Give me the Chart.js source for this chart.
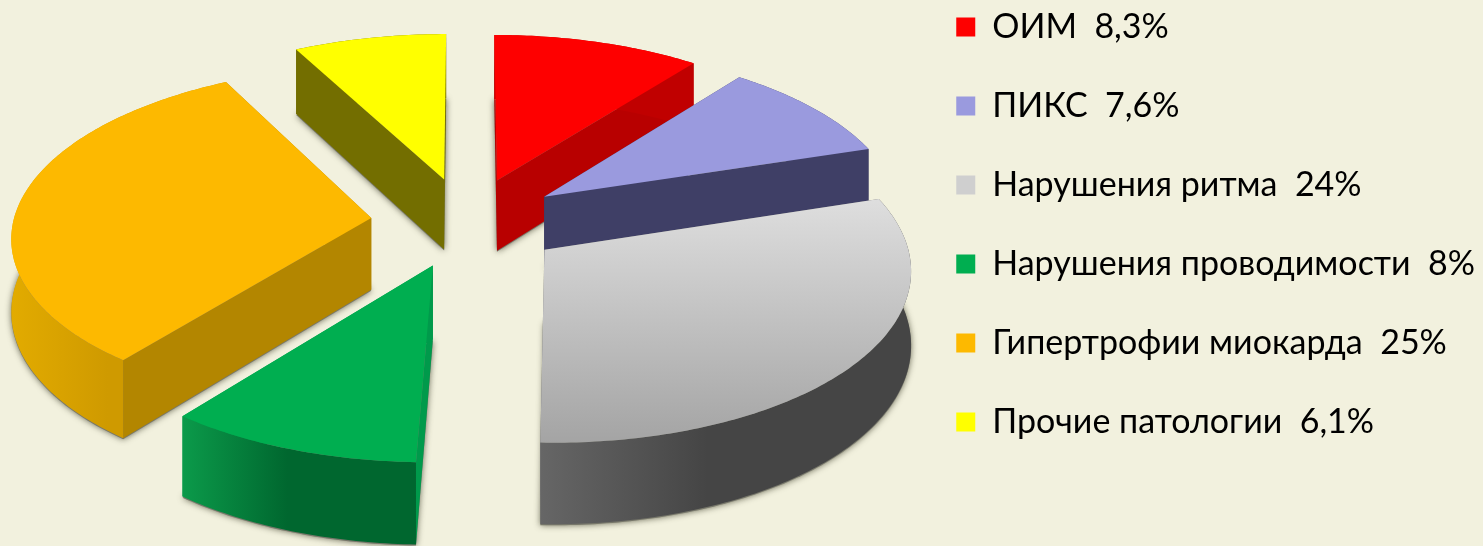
<!DOCTYPE html>
<html lang="ru">
<head>
<meta charset="utf-8">
<title>Структура патологии</title>
<script src="https://cdn.jsdelivr.net/npm/chart.js@4"></script>
<style>
    html, body { margin: 0; padding: 0; background: #f2f1de; overflow: hidden; }
    #wrap { width: 1483px; height: 546px; }
</style>
</head>
<body>
<div id="wrap"><canvas id="pieChart" width="1483" height="546"></canvas></div>
<script>
const categories = ['ОИМ', 'ПИКС', 'Нарушения ритма', 'Нарушения проводимости', 'Гипертрофии миокарда', 'Прочие патологии'];
const values = [8.3, 7.6, 24, 8, 25, 6.1];
const valueLabels = ['8,3%', '7,6%', '24%', '8%', '25%', '6,1%'];

const topColors = ['#fe0000', '#9a9ade', '#cfcfcf', '#00ae50', '#fdb900', '#ffff00'];
const cutColors = ['#b80000', '#3f3f66', '#6a6a6a', '#009a4b', '#b38600', '#736e00'];
const rimColors = [
    ['#c00000', '#c00000'],
    ['#3f3f66', '#3f3f66'],
    ['#666666', '#454545'],
    ['#0b9a4a', '#00672f'],
    ['#e2ab00', '#cf9a00'],
    ['#736e00', '#736e00']
];
const topShade = { 2: ['#dedede', '#a4a4a4'] };

// tilt of the pie plane
const TILT = 0.469;
const PERSPECTIVE = 0.1;
const DEPTH = 72;
const SHIFT_X = 11;
const SHIFT_Y = -31;

function projector(el) {
    const off = (el.options.offset || 0) / 4;
    const mid = (el.startAngle + el.endAngle) / 2;
    const ax = Math.cos(mid) * off;
    const ay = Math.sin(mid) * off;
    const R = el.outerRadius;
    const cx = el.x + SHIFT_X;
    const cy = el.y + SHIFT_Y;
    const toScreen = (u, v, z) => {
        const s = 1 / (1 - PERSPECTIVE * v / R);
        return [cx + u * s, cy + (TILT * v + z) * s];
    };
    return {
        apex: z => toScreen(ax, ay, z),
        rim: (a, z) => toScreen(ax + Math.cos(a) * R, ay + Math.sin(a) * R, z)
    };
}

function angleSteps(el) {
    const n = Math.max(2, Math.ceil((el.endAngle - el.startAngle) / 0.015));
    const out = [];
    for (let i = 0; i <= n; i++) out.push(el.startAngle + (el.endAngle - el.startAngle) * i / n);
    return out;
}

function tracePolygon(ctx, pts) {
    ctx.beginPath();
    pts.forEach((p, i) => i ? ctx.lineTo(p[0], p[1]) : ctx.moveTo(p[0], p[1]));
    ctx.closePath();
}

function sector(el, z) {
    const p = projector(el);
    return [p.apex(z)].concat(angleSteps(el).map(a => p.rim(a, z)));
}

function drawSlice(ctx, el, i) {
    const p = projector(el);
    const steps = angleSteps(el);

    // cut faces
    [el.startAngle, el.endAngle].forEach(a => {
        tracePolygon(ctx, [p.apex(0), p.rim(a, 0), p.rim(a, DEPTH), p.apex(DEPTH)]);
        ctx.fillStyle = cutColors[i];
        ctx.fill();
    });

    // outer rim, lighter on its left end
    const upper = steps.map(a => p.rim(a, 0));
    const lower = steps.map(a => p.rim(a, DEPTH)).reverse();
    const xs = upper.map(q => q[0]);
    const grad = ctx.createLinearGradient(Math.min(...xs), 0, Math.max(...xs), 0);
    grad.addColorStop(0, rimColors[i][0]);
    grad.addColorStop(0.45, rimColors[i][1]);
    grad.addColorStop(1, rimColors[i][1]);
    tracePolygon(ctx, upper.concat(lower));
    ctx.fillStyle = grad;
    ctx.fill();

    // top face
    const top = sector(el, 0);
    tracePolygon(ctx, top);
    if (topShade[i]) {
        const ys = top.map(q => q[1]);
        const g = ctx.createLinearGradient(0, Math.min(...ys), 0, Math.max(...ys));
        g.addColorStop(0, topShade[i][0]);
        g.addColorStop(1, topShade[i][1]);
        ctx.fillStyle = g;
    } else {
        ctx.fillStyle = el.options.backgroundColor;
    }
    ctx.fill();
}

const solidPie = {
    id: 'solidPie',
    beforeDatasetsDraw(chart) {
        const ctx = chart.ctx;
        const arcs = chart.getDatasetMeta(0).data;
        const depthOf = el => Math.sin((el.startAngle + el.endAngle) / 2);
        const order = arcs.map((el, i) => i).sort((a, b) => depthOf(arcs[a]) - depthOf(arcs[b]));

        // soft shadow from each slice's footprint
        ctx.save();
        ctx.shadowColor = 'rgba(60,60,40,0.75)';
        ctx.shadowBlur = 6;
        ctx.fillStyle = '#77776a';
        order.forEach(i => {
            tracePolygon(ctx, sector(arcs[i], DEPTH + 1));
            ctx.fill();
        });
        ctx.restore();

        order.forEach(i => drawSlice(ctx, arcs[i], i));
        return false;
    }
};

new Chart(document.getElementById('pieChart'), {
    type: 'pie',
    data: {
        labels: categories,
        datasets: [{
            data: values,
            backgroundColor: topColors,
            borderWidth: 0,
            offset: 384,
            radius: 358
        }]
    },
    options: {
        responsive: false,
        animation: false,
        events: [],
        layout: { padding: { top: -35, bottom: 40, left: 0, right: -2 } },
        plugins: {
            tooltip: { enabled: false },
            legend: {
                position: 'right',
                align: 'start',
                labels: {
                    boxWidth: 19,
                    boxHeight: 19,
                    padding: 45,
                    color: '#333333',
                    font: { family: 'Lato', size: 34 },
                    generateLabels: () => categories.map((c, i) => ({
                        text: c + '  ' + valueLabels[i],
                        fillStyle: topColors[i],
                        lineWidth: 0,
                        strokeStyle: 'transparent',
                        hidden: false,
                        index: i
                    }))
                }
            }
        }
    },
    plugins: [solidPie]
});
</script>
</body>
</html>
